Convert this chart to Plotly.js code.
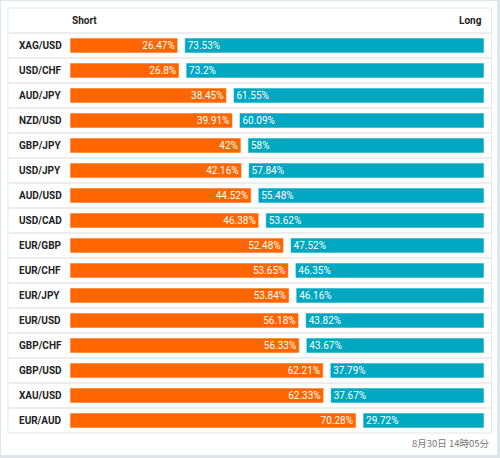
<!DOCTYPE html>
<html>
<head>
<meta charset="utf-8">
<script src="https://cdn.plot.ly/plotly-3.0.1.min.js"></script>
<style>
html,body{margin:0;padding:0;background:#dfe6e9;width:500px;height:458px;overflow:hidden;}
#wrap{position:absolute;left:1px;top:1px;width:496px;height:454px;background:#ffffff;}
#chart{width:496px;height:454px;}
</style>
</head>
<body>
<div id="wrap"><div id="chart"></div></div>
<script>
const pairs = ["XAG/USD","USD/CHF","AUD/JPY","NZD/USD","GBP/JPY","USD/JPY","AUD/USD","USD/CAD","EUR/GBP","EUR/CHF","EUR/JPY","EUR/USD","GBP/CHF","GBP/USD","XAU/USD","EUR/AUD"];
const shortPct = [26.47,26.8,38.45,39.91,42,42.16,44.52,46.38,52.48,53.65,53.84,56.18,56.33,62.21,62.33,70.28];
const longPct = [73.53,73.2,61.55,60.09,58,57.84,55.48,53.62,47.52,46.35,46.16,43.82,43.67,37.79,37.67,29.72];
const headers = ["Short","Long"];
const stamp = "8月30日 14時05分";

const GAP = 1.72;
const ORANGE = "#ff6600";
const TEAL = "#00a7c0";
const FONT = "Roboto, 'Noto Sans CJK JP', sans-serif";

const traces = [
  {
    type: "bar", orientation: "h", y: pairs, x: shortPct, base: 0,
    marker: {color: ORANGE, line: {color: "rgba(255,255,255,0.55)", width: 1}},
    text: shortPct.map(v => v + "%"), textposition: "inside", insidetextanchor: "end",
    textfont: {color: "#ffffff", size: 10, family: FONT}, constraintext: "none",
    hoverinfo: "skip", showlegend: false
  },
  {
    type: "bar", orientation: "h", y: pairs, x: longPct, base: shortPct.map(v => v + GAP),
    marker: {color: TEAL, line: {color: "rgba(255,255,255,0.55)", width: 1}},
    text: longPct.map(v => v + "%"), textposition: "inside", insidetextanchor: "start",
    textfont: {color: "#ffffff", size: 10, family: FONT}, constraintext: "none",
    hoverinfo: "skip", showlegend: false
  }
];

const n = pairs.length;
const xL = -0.1498, xR = 1.0181;
const shapes = [
  {type: "rect", xref: "paper", yref: "paper", x0: xL, x1: xR, y0: 0, y1: 1.0625,
   line: {color: "#e3e8ea", width: 1}, fillcolor: "rgba(0,0,0,0)", layer: "below"}
];
for (let k = 1; k <= n; k++) {
  shapes.push({type: "line", xref: "paper", yref: "paper", x0: xL, x1: xR, y0: k / n, y1: k / n,
    line: {color: "#ededed", width: 2}, layer: "below"});
}

const annotations = pairs.map(p => ({
  xref: "paper", yref: "y", x: -0.128, y: p, text: p, showarrow: false,
  xanchor: "left", yanchor: "middle",
  font: {family: FONT, size: 10, color: "#222222", weight: "bold"}
}));
annotations.push({xref: "paper", yref: "paper", x: 0, y: 1.0325, text: headers[0], showarrow: false,
  xanchor: "left", yanchor: "middle", font: {family: FONT, size: 10, color: "#222222", weight: "bold"}});
annotations.push({xref: "paper", yref: "paper", x: 1.0, y: 1.0325, text: headers[1], showarrow: false,
  xanchor: "right", yanchor: "middle", font: {family: FONT, size: 10, color: "#222222", weight: "bold"}});
annotations.push({xref: "paper", yref: "paper", x: 1.019, y: -0.025, text: stamp, showarrow: false,
  xanchor: "right", yanchor: "middle", font: {family: "'Noto Sans CJK JP', Roboto, sans-serif", size: 9.5, color: "#777777"}});

const layout = {
  width: 496, height: 454,
  margin: {l: 69, r: 13, t: 32, b: 22, pad: 0},
  paper_bgcolor: "#ffffff", plot_bgcolor: "rgba(0,0,0,0)",
  barmode: "overlay", bargap: 0.4,
  xaxis: {range: [0, 100 + GAP], visible: false, fixedrange: true},
  yaxis: {type: "category", autorange: "reversed", showticklabels: false, showgrid: false,
          zeroline: false, showline: false, ticks: "", fixedrange: true},
  shapes: shapes, annotations: annotations,
  font: {family: FONT}
};

Plotly.newPlot("chart", traces, layout, {displayModeBar: false, staticPlot: true});
</script>
</body>
</html>
